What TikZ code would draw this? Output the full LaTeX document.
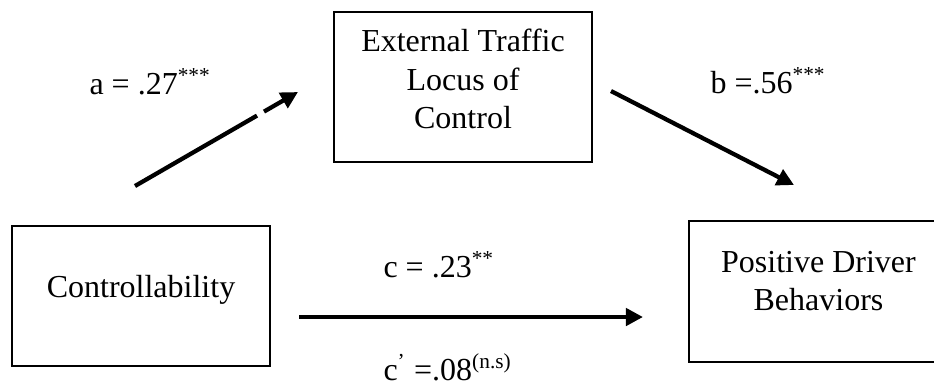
\documentclass[tikz,border=0pt]{standalone}
\usepackage{fontspec}
\setmainfont{Liberation Serif}
\usetikzlibrary{arrows.meta}

\begin{document}
\begin{tikzpicture}[
    x=0.375pt, y=-0.375pt,
    box/.style={draw, line width=0.8pt, inner sep=0pt},
    txt/.style={align=center, inner sep=0pt},
    lbl/.style={anchor=base west, inner sep=0pt},
    link/.style={line width=1.6pt},
    >={Triangle[length=6.4pt, width=6.4pt]},
    font=\fontsize{12}{14.4}\selectfont
]
    \clip (0,0) rectangle (934,385);

    % 方框 (3个变量)
    \node[box, minimum width=96.75pt, minimum height=56.25pt] (ext) at (463, 87) {};      % 上方中介变量
    \node[box, minimum width=96.75pt, minimum height=52.5pt] (ctrl) at (141, 296) {};     % 左下自变量
    \node[box, minimum width=97.1pt, minimum height=52.9pt] (pos) at (818.5, 291.5) {};   % 右下因变量

    % 方框内文字
    \node[txt, anchor=south] (extText) at (463, 129.3) {External Traffic\\Locus of\\Control};
    \node[txt, anchor=base] (ctrlText) at (141, 297) {Controllability};
    \node[txt, anchor=south] (posText) at (818.5, 311.7) {Positive Driver\\Behaviors};

    % 箭头端点
    \coordinate (aStart) at (135, 186);
    \coordinate (aGapL) at (257, 115.6);
    \coordinate (aGapR) at (264, 111.6);
    \coordinate (aEnd) at (298, 92);
    \coordinate (bStart) at (611, 91);
    \coordinate (bEnd) at (794, 185);
    \coordinate (cStart) at (299, 317);
    \coordinate (cEnd) at (643, 317);

    % 1. 路径 a (中间有一处断开)
    \draw[link] (aStart) -- (aGapL);
    \draw[link, ->] (aGapR) -- (aEnd);

    % 2. 路径 b
    \draw[link, ->] (bStart) -- (bEnd);

    % 3. 路径 c / c'
    \draw[link, ->] (cStart) -- (cEnd);

    % 系数标注
    \node[lbl] (aLbl) at (89, 94) {a = .27\textsuperscript{***}};
    \node[lbl] (bLbl) at (710, 93) {b =.56\textsuperscript{***}};
    \node[lbl] (cLbl) at (383, 277) {c = .23\textsuperscript{**}};
    \node[lbl] (cpLbl) at (383, 380) {c\textsuperscript{'} =.08\textsuperscript{(n.s)}};

\end{tikzpicture}
\end{document}
